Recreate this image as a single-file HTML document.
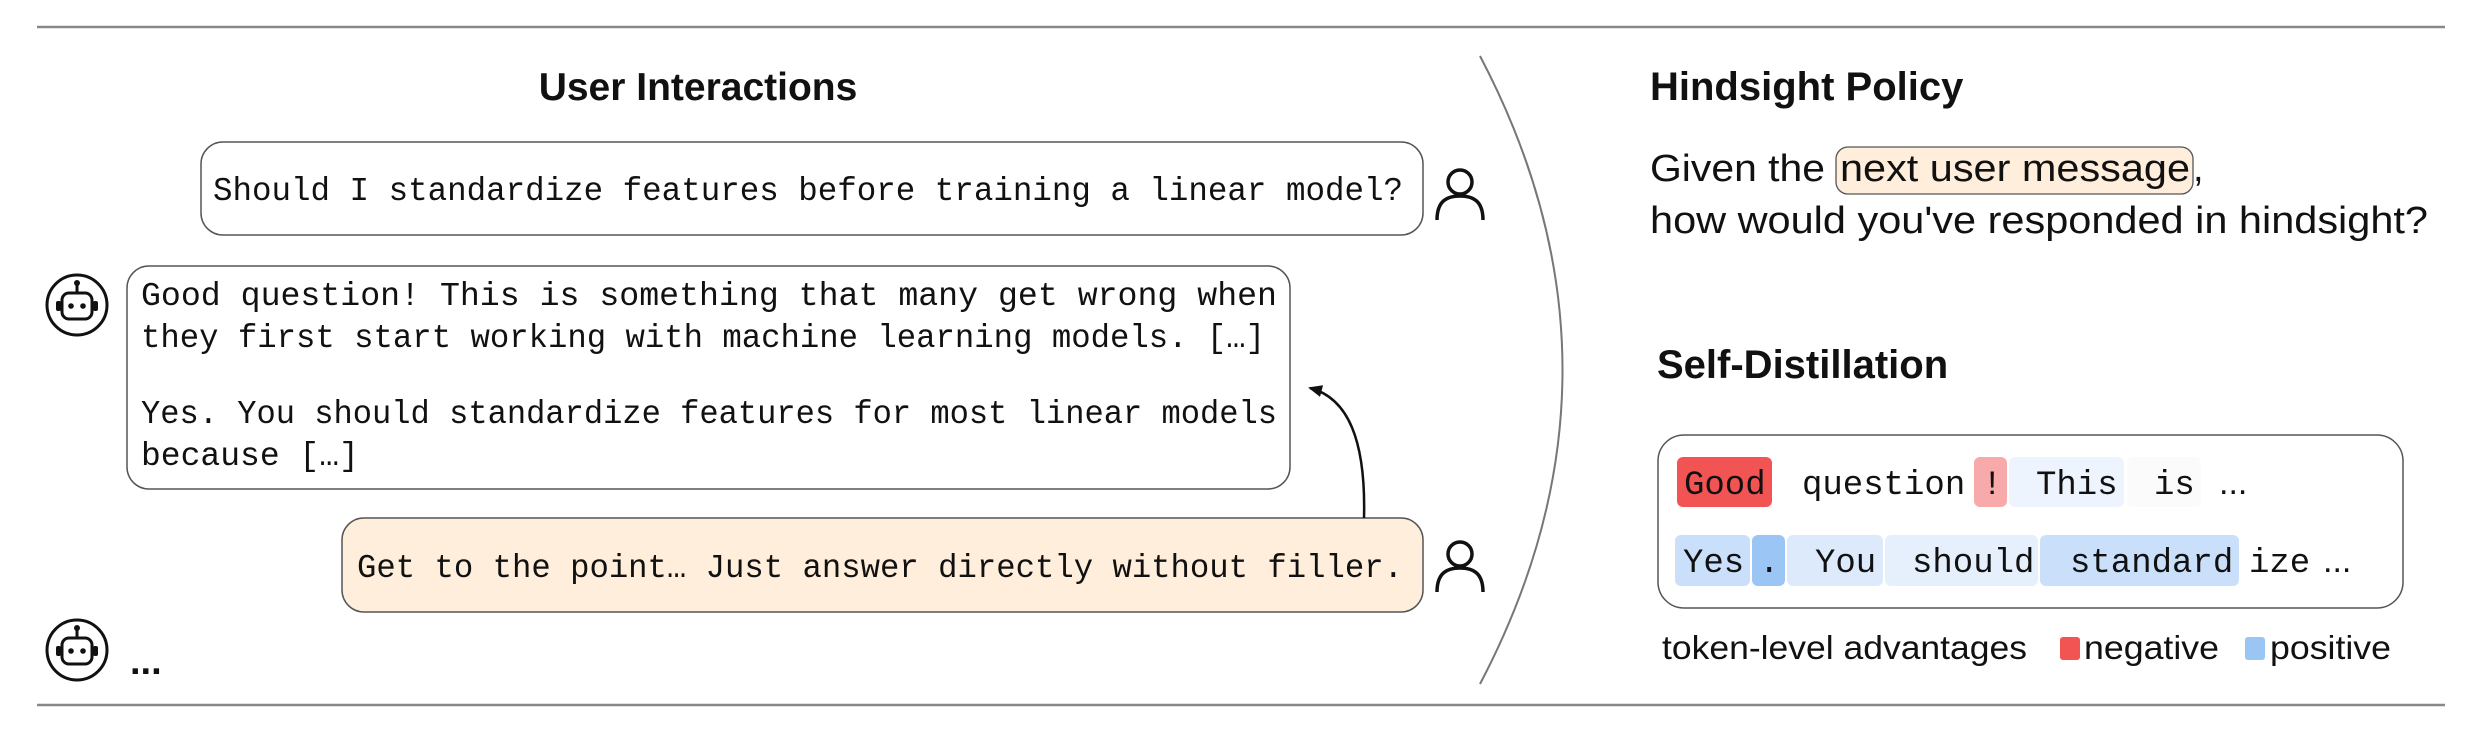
<!DOCTYPE html>
<html><head><meta charset="utf-8"><style>
html,body{margin:0;padding:0;background:#fff;}
svg{display:block;}
.m{font-family:"Liberation Mono","DejaVu Sans Mono",monospace;font-size:33px;fill:#111;}
.t{font-family:"Liberation Mono","DejaVu Sans Mono",monospace;font-size:34px;fill:#111;}
.s{font-family:"Liberation Sans",Arial,sans-serif;fill:#111;}
</style></head><body>
<svg width="2481" height="737" viewBox="0 0 2481 737" xmlns="http://www.w3.org/2000/svg">
<defs>
<marker id="ah" markerWidth="14" markerHeight="12" refX="12" refY="6" orient="auto" markerUnits="userSpaceOnUse">
<path d="M0,0 L14,6 L0,12 Z" fill="#111"/></marker>
<g id="robot">
<circle cx="0" cy="0" r="30" fill="#fff" stroke="#111" stroke-width="3"/>
<rect x="-15" y="-12" width="30" height="26" rx="7" fill="none" stroke="#111" stroke-width="3"/>
<line x1="0" y1="-12" x2="0" y2="-20" stroke="#111" stroke-width="3"/>
<circle cx="0" cy="-22" r="3" fill="#111"/>
<rect x="-21" y="-4" width="5" height="10" rx="2" fill="#111"/>
<rect x="16" y="-4" width="5" height="10" rx="2" fill="#111"/>
<circle cx="-6" cy="1" r="2.8" fill="#111"/>
<circle cx="6" cy="1" r="2.8" fill="#111"/>
</g>
<g id="user">
<circle cx="0" cy="-12" r="12" fill="none" stroke="#111" stroke-width="3.5"/>
<path d="M-23,26 C-23,6 -12,2 0,2 C12,2 23,6 23,26" fill="none" stroke="#111" stroke-width="3.5"/>
</g>
</defs>
<line x1="37" y1="27" x2="2445" y2="27" stroke="#888" stroke-width="2.5"/>
<line x1="37" y1="705" x2="2445" y2="705" stroke="#888" stroke-width="2.5"/>

<text x="698" y="100" text-anchor="middle" class="s" font-size="39" font-weight="bold">User Interactions</text>

<rect x="201" y="142" width="1222" height="93" rx="22" fill="#fff" stroke="#555" stroke-width="1.5"/>
<text x="213" y="200" class="m" textLength="1190" lengthAdjust="spacingAndGlyphs">Should I standardize features before training a linear model?</text>
<use href="#user" x="1460" y="194"/>

<use href="#robot" x="77" y="305"/>
<rect x="127" y="266" width="1163" height="223" rx="22" fill="#fff" stroke="#555" stroke-width="1.5"/>
<text x="141" y="305" class="m" textLength="1136" lengthAdjust="spacingAndGlyphs">Good question! This is something that many get wrong when</text>
<text x="141" y="347" class="m" textLength="1124" lengthAdjust="spacingAndGlyphs">they first start working with machine learning models. […]</text>
<text x="141" y="423" class="m" textLength="1136" lengthAdjust="spacingAndGlyphs">Yes. You should standardize features for most linear models</text>
<text x="141" y="465" class="m">because […]</text>

<rect x="342" y="518" width="1081" height="94" rx="22" fill="#feeedb" stroke="#555" stroke-width="1.5"/>
<text x="357" y="577" class="m" textLength="1046" lengthAdjust="spacingAndGlyphs">Get to the point… Just answer directly without filler.</text>
<use href="#user" x="1460" y="566"/>
<path d="M1364,518 C1366,440 1348,398 1310,388" fill="none" stroke="#111" stroke-width="2.5" marker-end="url(#ah)"/>

<use href="#robot" x="77" y="650"/>
<text x="130" y="674" class="s" font-size="38" font-weight="bold">...</text>

<path d="M1480,56 Q1645,370 1480,684" fill="none" stroke="#777" stroke-width="2"/>

<text x="1650" y="100" class="s" font-size="40" font-weight="bold">Hindsight Policy</text>
<rect x="1836" y="147" width="357" height="47" rx="12" fill="#feeedb" stroke="#555" stroke-width="1.3"/>
<text x="1650" y="181" class="s" font-size="38" textLength="175" lengthAdjust="spacingAndGlyphs">Given the</text>
<text x="1840" y="181" class="s" font-size="38" textLength="350" lengthAdjust="spacingAndGlyphs">next user message</text>
<text x="2193" y="181" class="s" font-size="38">,</text>
<text x="1650" y="233" class="s" font-size="38" textLength="778" lengthAdjust="spacingAndGlyphs">how would you've responded in hindsight?</text>

<text x="1657" y="378" class="s" font-size="40" font-weight="bold">Self-Distillation</text>
<rect x="1658" y="435" width="745" height="173" rx="26" fill="#fff" stroke="#555" stroke-width="1.5"/>

<rect x="1677" y="457" width="95" height="50" rx="6" fill="#f25353"/>
<rect x="1974" y="457" width="33" height="50" rx="6" fill="#f8aaaa"/>
<rect x="2009" y="457" width="115" height="50" rx="6" fill="#eef4fd"/>
<rect x="2127" y="457" width="74" height="50" rx="6" fill="#fbfbfb"/>
<text x="1684" y="494" class="t">Good</text>
<text x="1802" y="494" class="t">question</text>
<text x="1982" y="494" class="t">!</text>
<text x="2036" y="494" class="t">This</text>
<text x="2154" y="494" class="t">is</text>
<text x="2219" y="494" class="s" font-size="34">...</text>

<rect x="1675" y="535" width="75" height="51" rx="6" fill="#c9dffa"/>
<rect x="1752" y="535" width="33" height="51" rx="6" fill="#9ac5f5"/>
<rect x="1787" y="535" width="96" height="51" rx="6" fill="#dceafc"/>
<rect x="1885" y="535" width="153" height="51" rx="6" fill="#e6effc"/>
<rect x="2040" y="535" width="199" height="51" rx="6" fill="#cadffa"/>
<text x="1683" y="572" class="t">Yes</text>
<text x="1759" y="572" class="t">.</text>
<text x="1815" y="572" class="t">You</text>
<text x="1912" y="572" class="t">should</text>
<text x="2070" y="572" class="t">standard</text>
<text x="2249" y="572" class="t">ize</text>
<text x="2323" y="572" class="s" font-size="34">...</text>

<text x="1662" y="659" class="s" font-size="33" textLength="365" lengthAdjust="spacingAndGlyphs">token-level advantages</text>
<rect x="2060" y="637" width="20" height="23" rx="3" fill="#f25353"/>
<text x="2084" y="659" class="s" font-size="33" textLength="135" lengthAdjust="spacingAndGlyphs">negative</text>
<rect x="2245" y="637" width="20" height="23" rx="3" fill="#9ac5f5"/>
<text x="2270" y="659" class="s" font-size="33" textLength="121" lengthAdjust="spacingAndGlyphs">positive</text>
</svg>
</body></html>
